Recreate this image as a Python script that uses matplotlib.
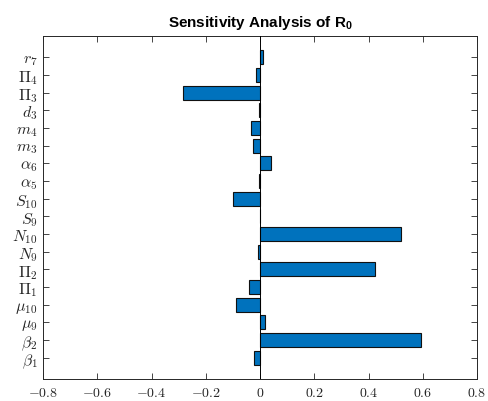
import numpy as np
import matplotlib
matplotlib.use("Agg")
import matplotlib.pyplot as plt

plt.rcParams['mathtext.fontset'] = 'custom'
plt.rcParams['mathtext.rm'] = 'Liberation Sans'
plt.rcParams['mathtext.bf'] = 'Liberation Sans:bold'

# sensitivity indices of R0, bottom to top
params = [r'\beta_{1}', r'\beta_{2}', r'\mu_{9}', r'\mu_{10}', r'\Pi_{1}', r'\Pi_{2}',
          r'N_{9}', r'N_{10}', r'S_{9}', r'S_{10}', r'\alpha_{5}', r'\alpha_{6}',
          r'm_{3}', r'm_{4}', r'd_{3}', r'\Pi_{3}', r'\Pi_{4}', r'r_{7}']
indices = [-0.023, 0.594, 0.020, -0.089, -0.040, 0.423,
           -0.008, 0.518, 0.0, -0.100, -0.002, 0.039,
           -0.026, -0.032, -0.002, -0.284, -0.015, 0.011]
xticks = [-0.8, -0.6, -0.4, -0.2, 0, 0.2, 0.4, 0.6, 0.8]

fig = plt.figure(figsize=(4.88, 4.02), dpi=100)
ax = fig.add_axes([43/488, 22/402, 434/488, 343/402])

pos = np.arange(1, len(params) + 1)
ax.barh(pos, indices, height=0.8, color='#0072BD', edgecolor='#111111', linewidth=0.8, zorder=2)
ax.axvline(0, color='k', lw=0.7, zorder=3)

ax.set_xlim(-0.8, 0.8)
ax.set_ylim(-0.2, 19.2)
ax.set_xticks(xticks)
ax.set_xticklabels([r'$%g$' % t if t >= 0 else r'$-%g$' % -t for t in xticks])
ax.set_yticks(pos)
ax.set_yticklabels(['$' + p + '$' for p in params])

for lab in ax.get_xticklabels():
    lab.set_math_fontfamily('cm')
    lab.set_fontsize(10)
for lab in ax.get_yticklabels():
    lab.set_math_fontfamily('cm')
    lab.set_fontsize(11.5)

ax.tick_params(direction='in', length=4, width=0.6, colors='#262626',
               top=True, right=True, pad=4)
for s in ax.spines.values():
    s.set_color('#262626')
    s.set_linewidth(0.7)

ax.set_title(r'Sensitivity Analysis of R$_\mathbf{0}$', fontfamily='Liberation Sans',
             fontweight='bold', fontsize=11, pad=7)

fig.savefig('out.png', dpi=100)
